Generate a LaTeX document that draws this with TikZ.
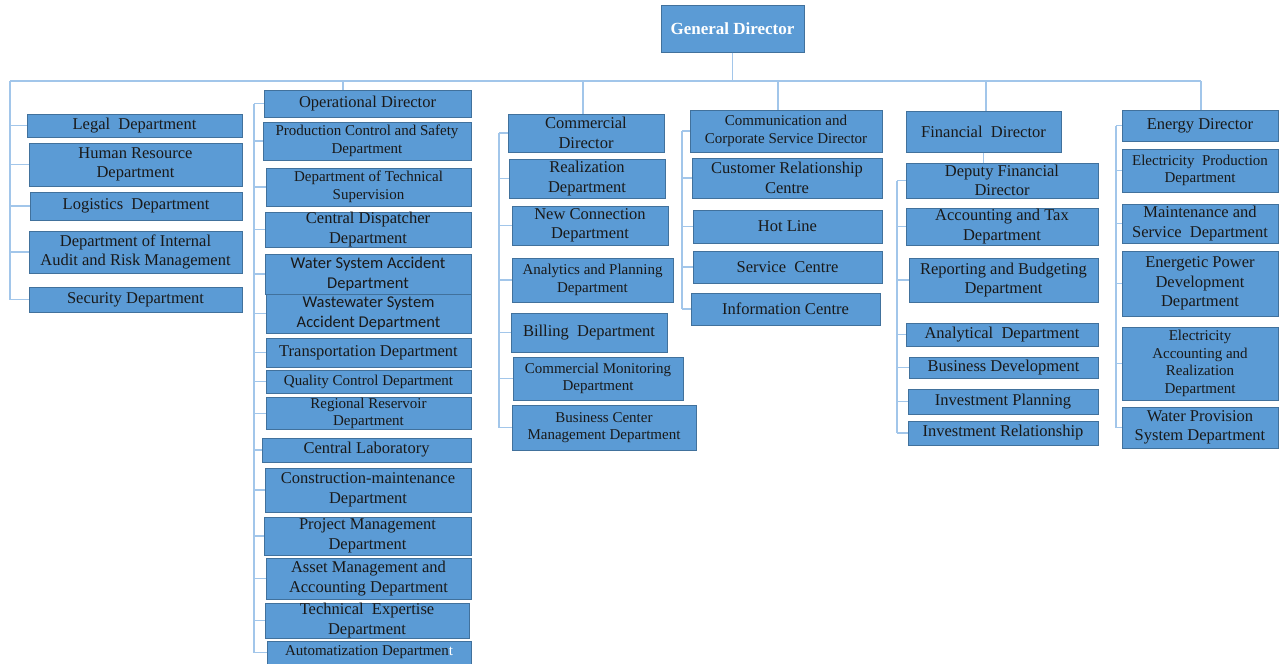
\documentclass[tikz,border=0pt]{standalone}
\usepackage{fontspec}
\setmainfont{Liberation Serif}
\newfontfamily\calibrifont{Carlito}
\usepackage{xcolor}
\usetikzlibrary{positioning,calc}
\definecolor{deptfill}{HTML}{5B9BD5}
\definecolor{deptedge}{HTML}{41719C}
\definecolor{linkblue}{HTML}{A2C6EA}

\begin{document}
\begin{tikzpicture}[x=1pt,y=-1pt,
    dept/.style={draw=deptedge, line width=1pt, fill=deptfill, inner sep=0pt, align=center,
                 text=black!90, font=\fontsize{16.5}{19.5}\selectfont},
    smalltext/.style={font=\fontsize{15}{17.5}\selectfont},
    sanstext/.style={font=\calibrifont\fontsize{16.5}{19.5}\selectfont},
    wh/.style 2 args={minimum width=#1, minimum height=#2},
    link/.style={draw=linkblue, line width=1.1pt}]
    \useasboundingbox (0,0) rectangle (1280,664);

    % Top of the chart
    \node [dept, wh={143}{47}, text=white, font=\fontsize{17}{20}\selectfont\bfseries] (gd) at (732.5,28.5) {General Director};

    % Departments under the General Director
    \node [dept, wh={215}{23}] (legal) at (134.5,125.5) {Legal\ \ Department};
    \node [dept, wh={213}{43}] (hr)    at (135.5,164.5) {Human Resource\\Department};
    \node [dept, wh={212}{28}] (logis) at (136,206) {Logistics\ \ Department};
    \node [dept, wh={213}{42}] (audit) at (135.5,252) {Department of Internal\\Audit and Risk Management};
    \node [dept, wh={213}{25}] (secur) at (135.5,299.5) {Security Department};

    % Operational director and his departments
    \node [dept, wh={207}{27}] (opdir)    at (367.5,103.5) {Operational Director};
    \node [dept, smalltext, wh={208}{38}] (prodctl) at (367,141) {Production Control and Safety\\Department};
    \node [dept, smalltext, wh={205}{38}] (techsup) at (368.5,187) {Department of Technical\\Supervision};
    \node [dept, wh={206}{35}] (dispatch) at (368,229.5) {Central Dispatcher\\Department};
    \node [dept, sanstext, wh={206}{40}] (watacc) at (368,274) {Water System Accident\\Department};
    \node [dept, sanstext, wh={205}{39}] (wwacc)  at (368.5,313.5) {Wastewater System\\Accident Department};
    \node [dept, wh={205}{29}] (transp)   at (368.5,352.5) {Transportation Department};
    \node [dept, smalltext, wh={205}{23}] (quality) at (368.5,381.5) {Quality Control Department};
    \node [dept, smalltext, wh={205}{31}] (reserv)  at (368.5,413.5) {Regional Reservoir\\Department};
    \node [dept, wh={209}{24}] (lab)      at (366.5,450) {Central Laboratory};
    \node [dept, wh={206}{44}] (constr)   at (368,490) {Construction-maintenance\\Department};
    \node [dept, wh={207}{38}] (projm)    at (367.5,536) {Project Management\\Department};
    \node [dept, wh={205}{41}] (asset)    at (368.5,578.5) {Asset Management and\\Accounting Department};
    \node [dept, wh={204}{35}] (techexp)  at (367,620.5) {Technical\ \ Expertise\\Department};
    \node [dept, smalltext, wh={204}{23}] (autom) at (369,652.5) {Automatization Departmen\textcolor{white}{t}};

    % Commercial director
    \node [dept, wh={156}{38}] (comdir)  at (586,133) {Commercial\\Director};
    \node [dept, wh={156}{39}] (realiz)  at (587,178.5) {Realization\\Department};
    \node [dept, wh={156}{39}] (newconn) at (590,225.5) {New Connection\\Department};
    \node [dept, smalltext, wh={161}{44}] (analyt) at (592.5,280) {Analytics and Planning\\Department};
    \node [dept, wh={156}{39}] (billing) at (589,332.5) {Billing\ \ Department};
    \node [dept, smalltext, wh={170}{43}] (common) at (598,378.5) {Commercial Monitoring\\Department};
    \node [dept, smalltext, wh={184}{45}] (bizctr) at (604,427.5) {Business Center\\Management Department};

    % Communication and corporate service director
    \node [dept, smalltext, wh={192}{42}] (corpdir) at (786,131) {Communication and\\Corporate Service Director};
    \node [dept, wh={190}{40}] (custrel) at (787,178) {Customer Relationship\\Centre};
    \node [dept, wh={189}{33}] (hotline) at (787.5,226.5) {Hot Line};
    \node [dept, wh={189}{32}] (servc)   at (787.5,267) {Service\ \ Centre};
    \node [dept, wh={189}{32}] (infoc)   at (785.5,309) {Information Centre};

    % Financial director
    \node [dept, wh={155}{41}] (findir)  at (983.5,131.5) {Financial\ \ Director};
    \node [dept, wh={192}{35}] (deputy)  at (1002,180.5) {Deputy Financial\\Director};
    \node [dept, wh={192}{37}] (acctax)  at (1002,226.5) {Accounting and Tax\\Department};
    \node [dept, wh={189}{44}] (report)  at (1003.5,280) {Reporting and Budgeting\\Department};
    \node [dept, wh={192}{23}] (analdep) at (1002,334.5) {Analytical\ \ Department};
    \node [dept, wh={189}{21}] (bizdev)  at (1003.5,367.5) {Business Development};
    \node [dept, wh={190}{25}] (invplan) at (1003,401.5) {Investment Planning};
    \node [dept, wh={190}{24}] (invrel)  at (1003,433) {Investment Relationship};

    % Energy director
    \node [dept, wh={156}{31}] (energy)   at (1200,125.5) {Energy Director};
    \node [dept, smalltext, wh={156}{43}] (elprod) at (1200,170.5) {Electricity\ \ Production\\Department};
    \node [dept, wh={156}{39}] (maint)    at (1200,223.5) {Maintenance and\\Service\ \ Department};
    \node [dept, wh={156}{65}] (energpow) at (1200,283.5) {Energetic Power\\Development\\Department};
    \node [dept, smalltext, wh={156}{73}] (elacct) at (1200,363.5) {Electricity\\Accounting and\\Realization\\Department};
    \node [dept, wh={156}{41}] (waterprov) at (1200,427.5) {Water Provision\\System Department};

    % Main bus
    \coordinate (busL) at (10,81);
    \coordinate (busR) at (1201,81);
    \draw [link] (gd.south) -- (gd.south |- busL);
    \draw [link] (busL) -- (busR);
    \foreach \x/\n in {343/opdir, 583/comdir, 778/corpdir, 986/findir, 1201/energy} {
        \coordinate (d\n) at (\x,81);
        \draw [link] (d\n) -- (d\n |- \n.north);
    }
    \draw [link] (findir.south) -- (findir.south |- deputy.north);

    % Spines with their branches
    \draw [link] (busL) -- (busL |- secur.west);
    \foreach \n in {legal,hr,logis,audit,secur}
        \draw [link] (busL |- \n.west) -- (\n.west);

    \foreach \sx/\first/\last/\list in {
        254/opdir/autom/{opdir,prodctl,techsup,dispatch,watacc,wwacc,transp,quality,reserv,lab,constr,projm,asset,techexp,autom},
        499/comdir/bizctr/{comdir,realiz,newconn,analyt,billing,common,bizctr},
        682/corpdir/infoc/{corpdir,custrel,hotline,servc,infoc},
        897/deputy/invrel/{deputy,acctax,report,analdep,bizdev,invplan,invrel},
        1116/energy/waterprov/{energy,elprod,maint,energpow,elacct,waterprov}} {
        \coordinate (sp) at (\sx,0);
        \draw [link] (sp |- \first.west) -- (sp |- \last.west);
        \foreach \n in \list
            \draw [link] (sp |- \n.west) -- (\n.west);
    }
\end{tikzpicture}
\end{document}
